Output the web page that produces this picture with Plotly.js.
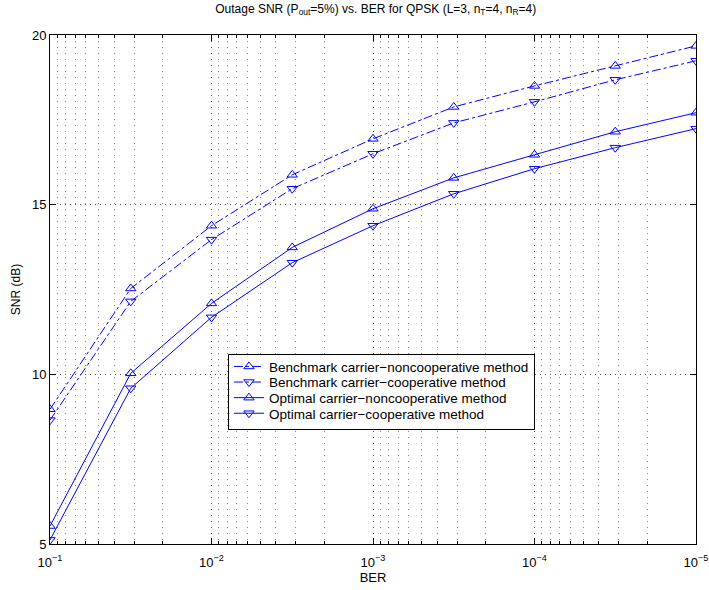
<!DOCTYPE html>
<html>
<head>
<meta charset="utf-8">
<script src="https://cdn.plot.ly/plotly-3.0.1.min.js"></script>
<style>html,body{margin:0;padding:0;background:#fff;}#chart{width:709px;height:590px;}</style>
</head>
<body>
<div id="chart"></div>
<script>
var ber = [1e-1, 3.1623e-2, 1e-2, 3.1623e-3, 1e-3, 3.1623e-4, 1e-4, 3.1623e-5, 1e-5];
var benchNoncoop = [8.97, 12.53, 14.38, 15.88, 16.94, 17.88, 18.50, 19.09, 19.68];
var benchCoop    = [8.65, 12.15, 13.97, 15.47, 16.50, 17.41, 18.03, 18.68, 19.24];
var optNoncoop   = [5.53, 10.03, 12.09, 13.74, 14.88, 15.79, 16.47, 17.15, 17.71];
var optCoop      = [5.12, 9.59, 11.68, 13.29, 14.38, 15.32, 16.06, 16.68, 17.24];
var seriesNames = ["Benchmark carrier\u2212noncooperative method",
                   "Benchmark carrier\u2212cooperative method",
                   "Optimal carrier\u2212noncooperative method",
                   "Optimal carrier\u2212cooperative method"];
var xTickVals = [1e-1, 1e-2, 1e-3, 1e-4, 1e-5];
var xTickText = ["10<sup>\u22121</sup>", "10<sup>\u22122</sup>", "10<sup>\u22123</sup>", "10<sup>\u22124</sup>", "10<sup>\u22125</sup>"];
var yTickVals = [5, 10, 15, 20];

// minor log grid positions (2..9 within each decade)
var minorVals = [];
for (var d = 1; d <= 4; d++) {
  for (var k = 2; k <= 9; k++) minorVals.push(k * Math.pow(10, -(d + 1)));
}

var blue = "#0000ff";
function tr(y, name, dash, sym) {
  return {x: ber, y: y, name: name, type: "scatter", mode: "lines+markers",
    line: {color: blue, width: 1, dash: dash},
    marker: {symbol: sym, size: 9, color: blue, line: {color: blue, width: 1}}};
}
var data = [
  tr(benchNoncoop, seriesNames[0], "dashdot", "triangle-up-open"),
  tr(benchCoop, seriesNames[1], "dashdot", "triangle-down-open"),
  tr(optNoncoop, seriesNames[2], "solid", "triangle-up-open"),
  tr(optCoop, seriesNames[3], "solid", "triangle-down-open")
];
var fam = "Liberation Sans, Arial, sans-serif";
var gridDash = "1px,5px";
var layout = {
  width: 709, height: 590,
  margin: {l: 50, r: 13, t: 35, b: 46},
  paper_bgcolor: "#fff", plot_bgcolor: "#fff",
  font: {family: fam, size: 12, color: "#000"},
  showlegend: true,
  title: {text: "Outage SNR (P<sub>out</sub>=5%) vs. BER for QPSK (L=3, n<sub>T</sub>=4, n<sub>R</sub>=4)",
          font: {family: fam, size: 12, color: "#000"}, x: 0.53, xanchor: "center", y: 0.993, yanchor: "top"},
  xaxis: {type: "log", range: [-1, -5], autorange: false,
    tickvals: xTickVals, ticktext: xTickText, tickfont: {size: 13},
    ticks: "inside", ticklen: 6, tickcolor: "#000", ticklabelstandoff: 6,
    showline: true, linecolor: "#000", linewidth: 1, mirror: "ticks",
    showgrid: true, gridcolor: "#555", griddash: gridDash, gridwidth: 1,
    zeroline: false,
    minor: {tickmode: "array", tickvals: minorVals, ticks: "inside", ticklen: 3, tickcolor: "#000",
            showgrid: true, gridcolor: "#888", griddash: gridDash, gridwidth: 1},
    title: {text: "BER", font: {size: 13}, standoff: 2}},
  yaxis: {range: [5, 20], autorange: false, tickvals: yTickVals, tickfont: {size: 13},
    ticks: "inside", ticklen: 6, tickcolor: "#000",
    showline: true, linecolor: "#000", linewidth: 1, mirror: "ticks",
    showgrid: true, gridcolor: "#555", griddash: "1px,4px", gridwidth: 1,
    zeroline: false,
    title: {text: "SNR (dB)", font: {size: 12}, standoff: 8}},
  legend: {x: 0.2755, y: 0.373, xanchor: "left", yanchor: "top",
    bgcolor: "#fff", bordercolor: "#000", borderwidth: 1,
    font: {family: fam, size: 13.5, color: "#000"}, tracegroupgap: 0, itemwidth: 30}
};
var gd = document.getElementById("chart");
Plotly.newPlot(gd, data, layout, {staticPlot: true}).then(function () {
  // tighten legend row spacing to match the reference
  var items = gd.querySelectorAll(".legend .traces");
  if (items.length < 2) return;
  function ty(el) {
    var m = /translate\(\s*([-\d.]+)[ ,]+([-\d.]+)\s*\)/.exec(el.getAttribute("transform") || "");
    return m ? [parseFloat(m[1]), parseFloat(m[2])] : [0, 0];
  }
  var p0 = ty(items[0]), p1 = ty(items[1]);
  var orig = p1[1] - p0[1];
  var spacing = 15.6;
  var shift = (orig - spacing) / 2 + 1.5;
  for (var i = 0; i < items.length; i++) {
    var p = ty(items[i]);
    items[i].setAttribute("transform", "translate(" + p[0] + "," + (p0[1] - shift + i * spacing) + ")");
  }
  var bg = gd.querySelector(".legend .bg");
  if (bg) {
    var h = parseFloat(bg.getAttribute("height"));
    bg.setAttribute("height", h - items.length * (orig - spacing) + 1);
  }
});
</script>
</body>
</html>
